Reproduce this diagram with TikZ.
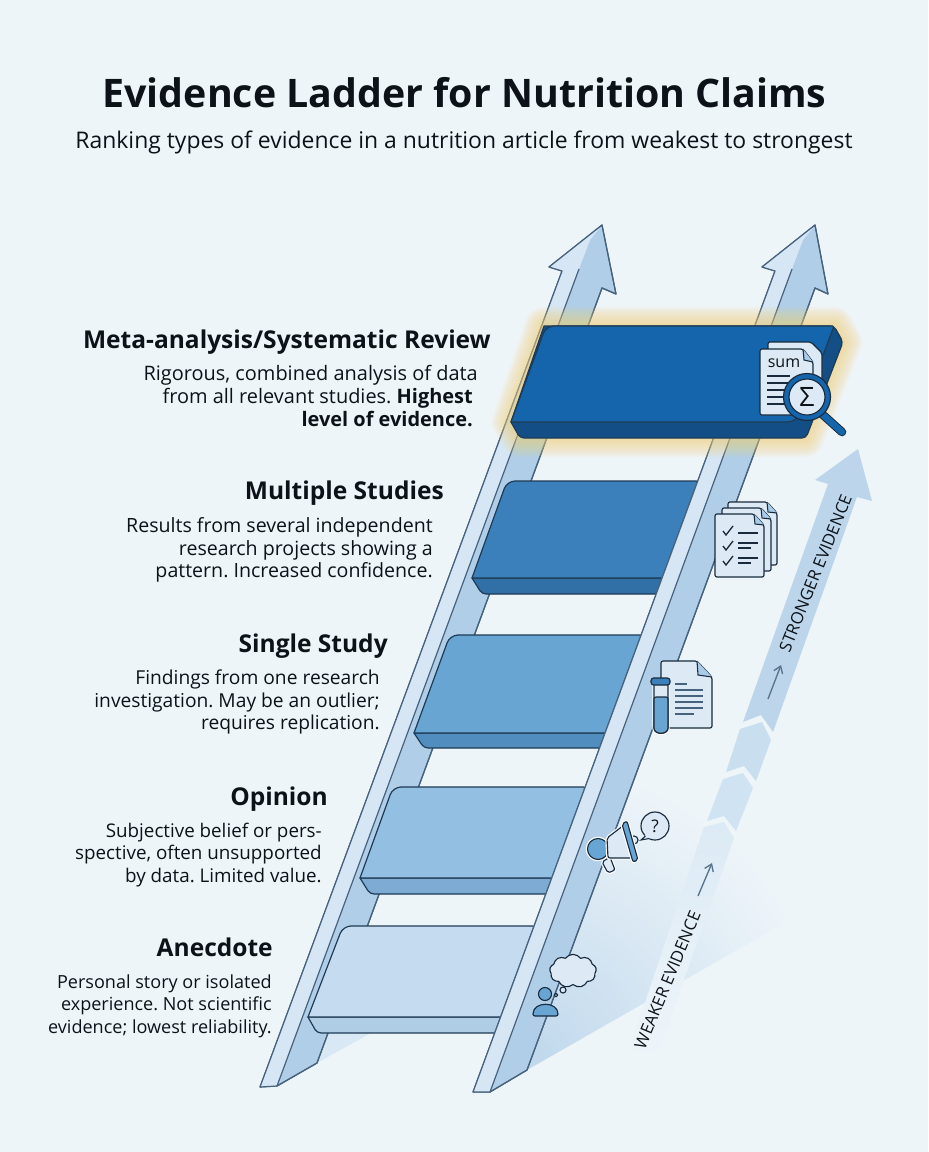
\documentclass[tikz,border=0pt]{standalone}
\usepackage{fontspec}
\setmainfont{Open Sans}
\usetikzlibrary{arrows.meta}
\usetikzlibrary{shapes.symbols}
\definecolor{pagebg}  {RGB}{238,245,249}
\definecolor{railedge}  {RGB}{70,98,125}
\definecolor{raillight}  {RGB}{214,230,244}
\definecolor{raildark}  {RGB}{176,206,232}
\definecolor{glowy}  {RGB}{247,208,115}
\definecolor{stepedge}  {RGB}{30,58,85}
\definecolor{stepa}  {RGB}{197,220,240}
\definecolor{stepafront}  {RGB}{176,205,230}
\definecolor{stepb}  {RGB}{147,191,226}
\definecolor{stepbfront}  {RGB}{126,171,211}
\definecolor{stepc}  {RGB}{104,165,211}
\definecolor{stepcfront}  {RGB}{82,141,192}
\definecolor{stepd}  {RGB}{59,128,186}
\definecolor{stepdfront}  {RGB}{49,111,167}
\definecolor{stepe}  {RGB}{21,101,173}
\definecolor{stepefront}  {RGB}{19,79,134}
\definecolor{inkc}  {RGB}{13,18,24}
\definecolor{bandtop}  {RGB}{188,213,235}
\definecolor{bandmid}  {RGB}{201,223,240}
\definecolor{bandlow}  {RGB}{207,227,242}
\definecolor{bandend}  {RGB}{220,234,245}
\definecolor{iconpage}  {RGB}{221,234,245}
\definecolor{iconfold}  {RGB}{169,203,232}
\definecolor{iconline}  {RGB}{24,42,60}
\definecolor{arrowgrey}  {RGB}{88,116,140}
\tikzset{
    railbody/.style={draw=railedge, line width=0.9pt, line join=round, fill=raildark},
    railstrip/.style={fill=raillight},
    railline/.style={draw=railedge, line width=0.9pt},
    stepface/.style={draw=stepedge, line width=0.9pt, line join=round},
    headline/.style={anchor=east, inner sep=0pt, text=inkc, font=\fontsize{18.4}{22}\selectfont\bfseries},
    bodytext/.style={anchor=east, inner sep=0pt, align=right, text=inkc, font=\fontsize{#1}{16.9}\selectfont\frenchspacing},
    bandtext/.style={inner sep=0pt, text=inkc, font=\fontsize{12.5}{15}\selectfont},
    smallarrow/.style={draw=arrowgrey, line width=1pt, -{Straight Barb[length=5pt,width=7pt]}},
    icon/.style={draw=iconline, line width=0.85pt, fill=iconpage, line join=round, rounded corners=1.5pt},
    iconblue/.style={icon, fill=stepc},
    iconrule/.style={draw=iconline, line width=0.8pt},
    halo/.style={preaction={draw=white, line width=2.6pt}}
}
\begin{document}
\begin{tikzpicture}[x=0.75pt,y=-0.75pt]
  \useasboundingbox (0,0) rectangle (928,1152);
  %Background
      \fill[pagebg] (0,0) rectangle (928,1152);
  %Ground shade
      \fill[bandlow!70!pagebg] (317,1063) -- (385,1025) -- (330,1025) -- cycle;
      \begin{scope}
        \clip (500,1060) -- (527,1070) -- (807,910) -- (800,700) -- (630,700) -- cycle;
        \shade[inner color=raildark!75!pagebg, outer color=pagebg] (527,1060) circle[radius=300];
      \end{scope}
  %Evidence band
      \fill[bandtop] (815,480) -- (858,449) -- (872,501) -- (857,497) -- (773,732) -- (761,715) -- (743,722) -- (828,484) -- cycle;
      \fill[bandmid] (740,729) -- (762,722) -- (771,740) -- (756,781) -- (744,766) -- (726,772) -- cycle;
      \fill[bandlow] (723,779) -- (743,773) -- (753,788) -- (736,831) -- (724,816) -- (707,821) -- cycle;
      \shade[top color=bandend, bottom color=pagebg] (704,827) -- (724,822) -- (734,838) -- (655,1062) -- (628,1053) -- cycle;
      \node[bandtext, rotate=68] (stronger) at (815.5,573) {STRONGER EVIDENCE};
      \node[bandtext, rotate=67.5] (weaker) at (667.5,980) {WEAKER EVIDENCE};
      \coordinate (strongfrom) at (768,699);
      \coordinate (strongto) at (781,665);
      \coordinate (weakfrom) at (698,896);
      \coordinate (weakto) at (712,863);
      \draw[smallarrow] (strongfrom) -- (strongto);
      \draw[smallarrow] (weakfrom) -- (weakto);
  %Left rail
      \draw[railbody] (260,1087) -- (277,1086) -- (317,1063) -- (602,288) -- (616,294) -- (602,225) -- (549,267) -- (562,271) -- cycle;
      \fill[railstrip] (260,1087) -- (277,1086) -- (579,269) -- (590,240) -- (602,225) -- (549,267) -- (562,271) -- cycle;
      \draw[railbody, fill=none] (260,1087) -- (277,1086) -- (317,1063) -- (602,288) -- (616,294) -- (602,225) -- (549,267) -- (562,271) -- cycle;
      \draw[railline] (277,1086) -- (579,269);
  %Steps below the top one
      \foreach \tl/\tr/\br/\bl/\yt/\yb/\fl/\fr/\yf/\ctop/\cfront in {
          343/540/507/308/926/1017/317/500/1033/stepa/stepafront,
          393/591/558/360/787/878/370/552/894/stepb/stepbfront,
          450/648/612/414/635/733/424/606/748/stepc/stepcfront,
          507/704/669/472/481/578/482/663/594/stepd/stepdfront} {
        \draw[stepface, fill=\cfront] (\bl,\yb) [rounded corners=3pt] -- (\fl,\yf) -- (\fr,\yf) [sharp corners] -- (\br,\yb) -- cycle;
        \draw[stepface, fill=\ctop] (\bl,\yb) [rounded corners=6pt] -- (\tl,\yt) -- (\tr,\yt) [sharp corners] -- (\br,\yb) -- cycle;
      }
  %Right rail
      \draw[railbody] (473,1092) -- (490,1092) -- (527,1070) -- (815,288) -- (828,294) -- (815,225) -- (762,267) -- (775,271) -- cycle;
      \fill[railstrip] (473,1092) -- (490,1092) -- (792,269) -- (803,240) -- (815,225) -- (762,267) -- (775,271) -- cycle;
      \draw[railbody, fill=none] (473,1092) -- (490,1092) -- (527,1070) -- (815,288) -- (828,294) -- (815,225) -- (762,267) -- (775,271) -- cycle;
      \draw[railline] (490,1092) -- (792,269);
  %Glow of the top step
      \foreach \w in {1,2.5,...,30} {
        \draw[glowy, line width=\w pt, opacity=0.042, line join=round]
          (544,326) -- (834,326) -- (843,342) -- (805,438) -- (521,438) -- (511,422) -- cycle;
      }
  %Top step
      \draw[stepface, fill=stepefront] (511,422) [rounded corners=3pt] -- (520,438) -- (806,438) -- (843,342) -- (834,326) [sharp corners] -- (544,326) -- cycle;
      \draw[stepface, fill=stepe] (511,422) [rounded corners=6pt] -- (546,326) [rounded corners=1pt] -- (834,326) [rounded corners=8pt] -- (798,422) [sharp corners] -- cycle;
  %Icon top step
      \draw[icon] (768,342) -- (811,342) -- (822,353) -- (822,405) -- (768,405) -- cycle;
      \draw[icon] (760,349) -- (803,349) -- (813,362) -- (813,415) -- (760,415) -- cycle;
      \fill[iconfold] (803,349) -- (804,360) -- (813,362) -- cycle;
      \draw[iconrule] (803,349) -- (804,360) -- (813,362);
      \node[inner sep=0pt, text=inkc, font=\fontsize{12}{14}\selectfont] (sumlabel) at (784,363) {sum};
      \foreach \y in {376,383,390,397,404} {
        \draw[iconrule] (767,\y) -- (790,\y);
      }
      \draw[line cap=round, iconline, line width=6.4pt] (822,414) -- (842,432);
      \draw[line cap=round, stepe, line width=5pt] (822,414) -- (842,432);
      \draw[icon, fill=stepe] (807,397) circle[radius=23.5];
      \draw[icon, fill=iconpage] (807,397) circle[radius=18];
      \node[inner sep=0pt, text=inkc, font=\fontsize{20}{22}\selectfont] (sigmalabel) at (807,397) {Σ};
  %Icon multiple studies
      \foreach \dx/\dy in {13/-12,7/-6,0/0} {
        \begin{scope}[shift={(\dx,\dy)}]
          \draw[icon] (715,514) -- (754,514) -- (764,525) -- (764,577) -- (715,577) -- cycle;
          \fill[iconfold] (754,514) -- (755,524) -- (764,525) -- cycle;
          \draw[iconrule] (754,514) -- (755,524) -- (764,525);
        \end{scope}
      }
      \foreach \y in {531,546,561} {
        \draw[iconrule, line width=1pt] (723,\y) -- (726,\y+4) -- (733,\y-5);
      }
      \foreach \y/\xe in {533/758,543/758,548/751,558/758,563/751} {
        \draw[iconrule] (738,\y) -- (\xe,\y);
      }
  %Icon single study
      \draw[icon] (661,661) -- (697,661) -- (712,677) -- (712,728) -- (661,728) -- cycle;
      \fill[iconfold] (697,661) -- (698,675) -- (712,677) -- cycle;
      \draw[iconrule] (697,661) -- (698,675) -- (712,677);
      \foreach \y/\xe in {684/687,690/703,696/703,702/703,708/703,714/694} {
        \draw[iconrule, draw=railedge, line width=1pt] (675,\y) -- (\xe,\y);
      }
      \draw[icon, halo, fill=iconpage] (654,680) -- (668,680) -- (668,726) .. controls (668,735) and (654,735) .. (654,726) -- cycle;
      \draw[icon, fill=stepc] (654,697) -- (668,697) -- (668,726) .. controls (668,735) and (654,735) .. (654,726) -- cycle;
      \draw[icon, fill=stepd, rounded corners=2pt] (651,678) rectangle (670,685);
  %Icon opinion
      \draw[icon, halo] (602,862) -- (608,873) -- (615,870) -- (610,857) -- cycle;
      \draw[iconblue, halo] (598,849) circle[radius=10.5];
      \draw[icon, halo] (624,825) -- (607,838) -- (608,858) -- (635,858) -- cycle;
      \draw[icon, rounded corners=0pt] (634,840) circle[radius=4];
      \draw[iconblue, halo] (622,824) -- (627,821) -- (638,860) -- (633,862) -- cycle;
      \draw[icon] (655,826) circle[radius=14];
      \fill[iconpage] (646,834) -- (641,840) -- (651,838) -- (652,832) -- cycle;
      \draw[iconrule] (645.5,836) -- (641,840) -- (649,838.5);
      \node[inner sep=0pt, text=inkc, font=\fontsize{13}{15}\selectfont] (asklabel) at (655,826) {?};
  %Icon anecdote
      \node[cloud, cloud puffs=9, cloud puff arc=110, aspect=1.5, draw=iconline, line width=0.85pt, fill=iconpage, minimum width=35pt, minimum height=25pt, inner sep=0pt] (thought) at (573,971) {};
      \draw[icon] (563,990) circle[radius=3];
      \draw[icon] (556,995) circle[radius=1.8];
      \draw[iconblue] (545,994) circle[radius=6.5];
      \draw[iconblue] (533,1016) .. controls (533,1001) and (558,1001) .. (558,1016) -- cycle;
  %Title
      \node[inner sep=0pt, text=inkc, font=\fontsize{29.5}{36}\selectfont\bfseries] (title) at (464.5,93) {Evidence Ladder for Nutrition Claims};
      \node[inner sep=0pt, text=inkc, font=\fontsize{17.2}{22}\selectfont] (subtitle) at (464,142.5) {Ranking types of evidence in a nutrition article from weakest to strongest};
  %Meta-analysis text
      \node[headline] (metahead) at (491,342) {Meta-analysis/Systematic Review};
      \node[bodytext=14.95] (metabody) at (473,396) {Rigorous, combined analysis of data\hspace*{-3.75pt}\\from all relevant studies. \textbf{Highest}\\\textbf{level of evidence.}};
  %Multiple studies text
      \node[headline] (multihead) at (444,493) {Multiple Studies};
      \node[bodytext=14.7] (multibody) at (433,550) {Results from several independent\\research projects showing a\\pattern. Increased confidence.};
  %Single study text
      \node[headline] (singlehead) at (388,646) {Single Study};
      \node[bodytext=14.4] (singlebody) at (380,702) {Findings from one research\\investigation. May be an outlier;\\requires replication.};
  %Opinion text
      \node[headline] (opinionhead) at (328,799) {Opinion};
      \node[bodytext=14.1] (opinionbody) at (322,855) {Subjective belief or pers-\\spective, often unsupported\\by data. Limited value.};
  %Anecdote text
      \node[headline] (anecdotehead) at (273,947) {Anecdote};
      \node[bodytext=13.55] (anecdotebody) at (272,1006) {Personal story or isolated\\experience. Not scientific\\evidence; lowest reliability.};
\end{tikzpicture}
\end{document}
